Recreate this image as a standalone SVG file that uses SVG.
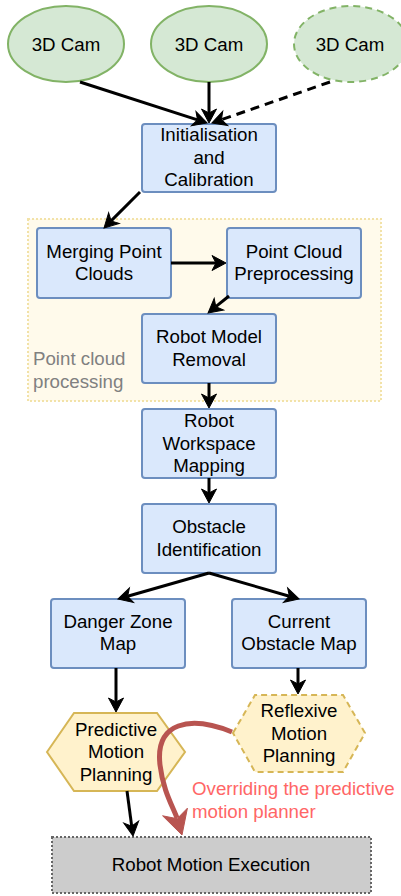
<svg xmlns="http://www.w3.org/2000/svg" width="401" height="896" viewBox="0 0 401 896">
<defs>
<style>
text{font-family:"Liberation Sans",Arial,sans-serif;font-size:18.7px;fill:#000;text-anchor:middle}
.box{fill:#dae8fc;stroke:#6c8ebf;stroke-width:2}
.cam{fill:#d5e8d4;stroke:#82b366;stroke-width:2}
.hex{fill:#fff2cc;stroke:#d6b656;stroke-width:2}
.edge{fill:none;stroke:#000;stroke-width:3}
</style>
<marker id="arr" viewBox="-16 -9 18 18" refX="-10" refY="0" markerWidth="18" markerHeight="18" markerUnits="userSpaceOnUse" orient="auto">
<path d="M0,0 L-14,-7.5 L-10,0 L-14,7.5 Z" fill="#000" stroke="#000" stroke-width="1"/>
</marker>
</defs>
<rect width="401" height="896" fill="#fff"/>

<g id="group-pointcloud">
<rect x="28" y="219" width="353" height="182" fill="#fffaeb" stroke="#f2e2a8" stroke-width="2" stroke-dasharray="2 2"/>
<text x="33" y="365" style="text-anchor:start;fill:#808080">Point cloud</text>
<text x="33" y="388" style="text-anchor:start;fill:#808080">processing</text>
</g>

<g id="cam1"><ellipse class="cam" cx="66" cy="44" rx="58" ry="38"/><text x="66" y="50.5">3D Cam</text></g>
<g id="cam2"><ellipse class="cam" cx="209" cy="44" rx="58" ry="38"/><text x="209" y="50.5">3D Cam</text></g>
<g id="cam3"><ellipse class="cam" cx="351" cy="44" rx="57" ry="38" stroke-dasharray="7 5"/><text x="350" y="50.5">3D Cam</text></g>

<g id="init"><rect class="box" x="142" y="124" width="134" height="68" rx="3"/>
<text x="209" y="141">Initialisation</text><text x="209" y="163.5">and</text><text x="209" y="186">Calibration</text></g>

<g id="merge"><rect class="box" x="37" y="228" width="134" height="70" rx="3"/>
<text x="104" y="257.5">Merging Point</text><text x="104" y="280">Clouds</text></g>

<g id="preproc"><rect class="box" x="227" y="228" width="134" height="70" rx="3"/>
<text x="294" y="257.5">Point Cloud</text><text x="294" y="280">Preprocessing</text></g>

<g id="rmr"><rect class="box" x="142" y="314" width="134" height="69" rx="3"/>
<text x="209" y="343">Robot Model</text><text x="209" y="365.5">Removal</text></g>

<g id="rwm"><rect class="box" x="142" y="409" width="134" height="69" rx="3"/>
<text x="209" y="427">Robot</text><text x="209" y="449.5">Workspace</text><text x="209" y="472">Mapping</text></g>

<g id="oi"><rect class="box" x="142" y="504" width="134" height="69" rx="3"/>
<text x="209" y="533">Obstacle</text><text x="209" y="555.5">Identification</text></g>

<g id="danger"><rect class="box" x="51" y="599" width="134" height="69" rx="3"/>
<text x="118" y="627.5">Danger Zone</text><text x="118" y="650">Map</text></g>

<g id="current"><rect class="box" x="232" y="599" width="134" height="69" rx="3"/>
<text x="299" y="627.5">Current</text><text x="299" y="650">Obstacle Map</text></g>

<g id="predictive"><polygon class="hex" points="47,752 74,713 157,713 185,752 157,791 74,791"/>
<text x="116" y="735.5">Predictive</text><text x="116" y="758">Motion</text><text x="116" y="780.5">Planning</text></g>

<g id="reflexive"><polygon class="hex" points="233,733 255,695 343,695 365,733 343,772 255,772" stroke-dasharray="6 4"/>
<text x="299" y="717">Reflexive</text><text x="299" y="739.5">Motion</text><text x="299" y="762">Planning</text></g>

<g id="execution"><rect x="52" y="837" width="319" height="56" fill="#cccccc" stroke="#666666" stroke-width="2" stroke-dasharray="2 2"/>
<text x="211" y="871">Robot Motion Execution</text></g>

<g id="connectors">
<path class="edge" d="M80,82 L197.5,119.9" marker-end="url(#arr)"/>
<path class="edge" d="M209,82 L209,113" marker-end="url(#arr)"/>
<path class="edge" d="M330,82 L221.4,119.7" stroke-dasharray="9 6" marker-end="url(#arr)"/>
<path class="edge" d="M140,192 L111.1,220.9" marker-end="url(#arr)"/>
<path class="edge" d="M171,263 L216,263" marker-end="url(#arr)"/>
<path class="edge" d="M229,296 L215.8,306.7" marker-end="url(#arr)"/>
<path class="edge" d="M209,383 L209,398" marker-end="url(#arr)"/>
<path class="edge" d="M209,478 L209,493" marker-end="url(#arr)"/>
<path class="edge" d="M209,573 L127.6,596.3" marker-end="url(#arr)"/>
<path class="edge" d="M209,573 L289.4,596.2" marker-end="url(#arr)"/>
<path class="edge" d="M116,668 L116,702" marker-end="url(#arr)"/>
<path class="edge" d="M298,668 L298,684" marker-end="url(#arr)"/>
<path class="edge" d="M127,791 L131.7,826.1" marker-end="url(#arr)"/>
<path d="M232,732 C190,715 155,722 160,765 C163,790 172,805 177,818" fill="none" stroke="#b85450" stroke-width="5"/>
<polygon points="182,835 162.6,815.8 177.1,818.7 187.4,808.2" fill="#b85450" stroke="#b85450" stroke-width="1"/>
<text x="192" y="795" style="text-anchor:start;fill:#ff6666">Overriding the predictive</text>
<text x="192" y="818" style="text-anchor:start;fill:#ff6666">motion planner</text>
</g>
</svg>
